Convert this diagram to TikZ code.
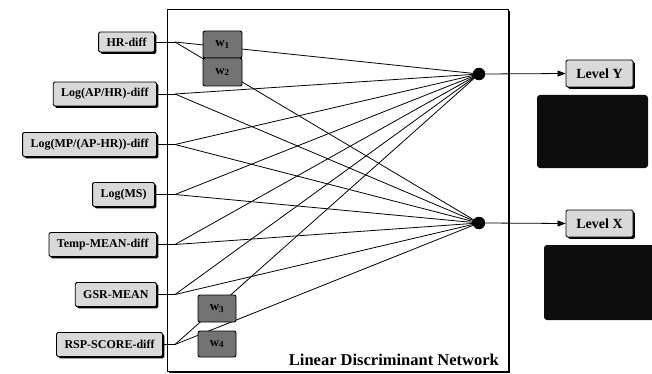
\documentclass[tikz,border=0pt]{standalone}
\usepackage{fontspec}
\setmainfont{Liberation Serif}
\usetikzlibrary{shadows,arrows.meta}
\begin{document}
\begin{tikzpicture}[x=1pt,y=-1pt,
  shad/.style={drop shadow={shadow xshift=1.8pt,shadow yshift=-1.8pt,fill=black,opacity=1}},
  inbox/.style={draw=black,line width=0.9pt,fill=gray!30,rounded corners=1.5pt,shad,
    font=\bfseries\fontsize{12}{12}\selectfont,minimum height=24pt,inner xsep=8pt,inner ysep=0pt,anchor=east},
  outbox/.style={draw=black,line width=0.9pt,fill=gray!30,rounded corners=1.5pt,shad,
    font=\bfseries\fontsize{14}{14}\selectfont,minimum width=67pt,minimum height=27pt,inner sep=0pt},
  wbox/.style={draw=black,line width=0.9pt,fill=black!55,rounded corners=2pt,
    minimum width=39pt,minimum height=27pt,inner sep=0pt,font=\bfseries\fontsize{13}{13}\selectfont},
  blk/.style={fill=black!95,rounded corners=3pt},
  dot/.style={circle,fill=black,minimum size=12.5pt,inner sep=0pt},
  wire/.style={line width=0.8pt}]
\useasboundingbox (0,0) rectangle (652,374);
% frame
\node (frame) [draw=black,line width=0.9pt,fill=white,shad,minimum width=341pt,minimum height=362pt,inner sep=0pt] at (337.5,190) {};
\node (title) [anchor=base east,font=\bfseries\fontsize{16.5}{16.5}\selectfont,inner sep=0pt] at (499,365) {Linear Discriminant Network};
% inputs
\node (i1) [inbox,minimum height=20pt] at (155,42) {HR-diff};
\node (i2) [inbox] at (157,94) {Log(AP/HR)-diff};
\node (i3) [inbox] at (157,144.5) {Log(MP/(AP-HR))-diff};
\node (i4) [inbox] at (155,194.5) {Log(MS)};
\node (i5) [inbox] at (157,244.5) {Temp-MEAN-diff};
\node (i6) [inbox] at (157,294.5) {GSR-MEAN};
\node (i7) [inbox] at (163,344.5) {RSP-SCORE-diff};
% branch points
\coordinate (b1) at (175,42);
\coordinate (b2) at (175,94);
\coordinate (b3) at (175,144.5);
\coordinate (b4) at (175,194.5);
\coordinate (b5) at (175,244.5);
\coordinate (b6) at (175,294.5);
\coordinate (b7) at (175,344.5);
% output dots
\coordinate (cy) at (479,74);
\coordinate (cx) at (479,223);
\foreach \k in {1,...,7}{
  \draw[wire] (i\k.east) -- (b\k);
  \draw[wire] (b\k) -- (cy);
  \draw[wire] (b\k) -- (cx);
}
% weight boxes
\node (w1) [wbox] at (222.5,44.5) {w\textsubscript{1}};
\node (w2) [wbox,minimum height=28pt] at (222.5,72) {w\textsubscript{2}};
\node (w3) [wbox,minimum width=38pt] at (217,308.5) {w\textsubscript{3}};
\node (w4) [wbox,minimum width=38pt,minimum height=26pt] at (217,344) {w\textsubscript{4}};
\node (dy) [dot] at (cy) {};
\node (dx) [dot] at (cx) {};
% outputs
\node (ly) [outbox] at (599.5,73.5) {Level Y};
\node (lx) [outbox] at (599.5,223.5) {Level X};
\draw[wire,-{Triangle[length=8pt,width=6pt]}] (dy.east) -- (ly.west);
\draw[wire,-{Triangle[length=8pt,width=6pt]}] (dx.east) -- (lx.west);
\fill[blk] (537,95) rectangle (648,168);
\fill[blk] (544,245) rectangle (656,320);
\end{tikzpicture}
\end{document}
